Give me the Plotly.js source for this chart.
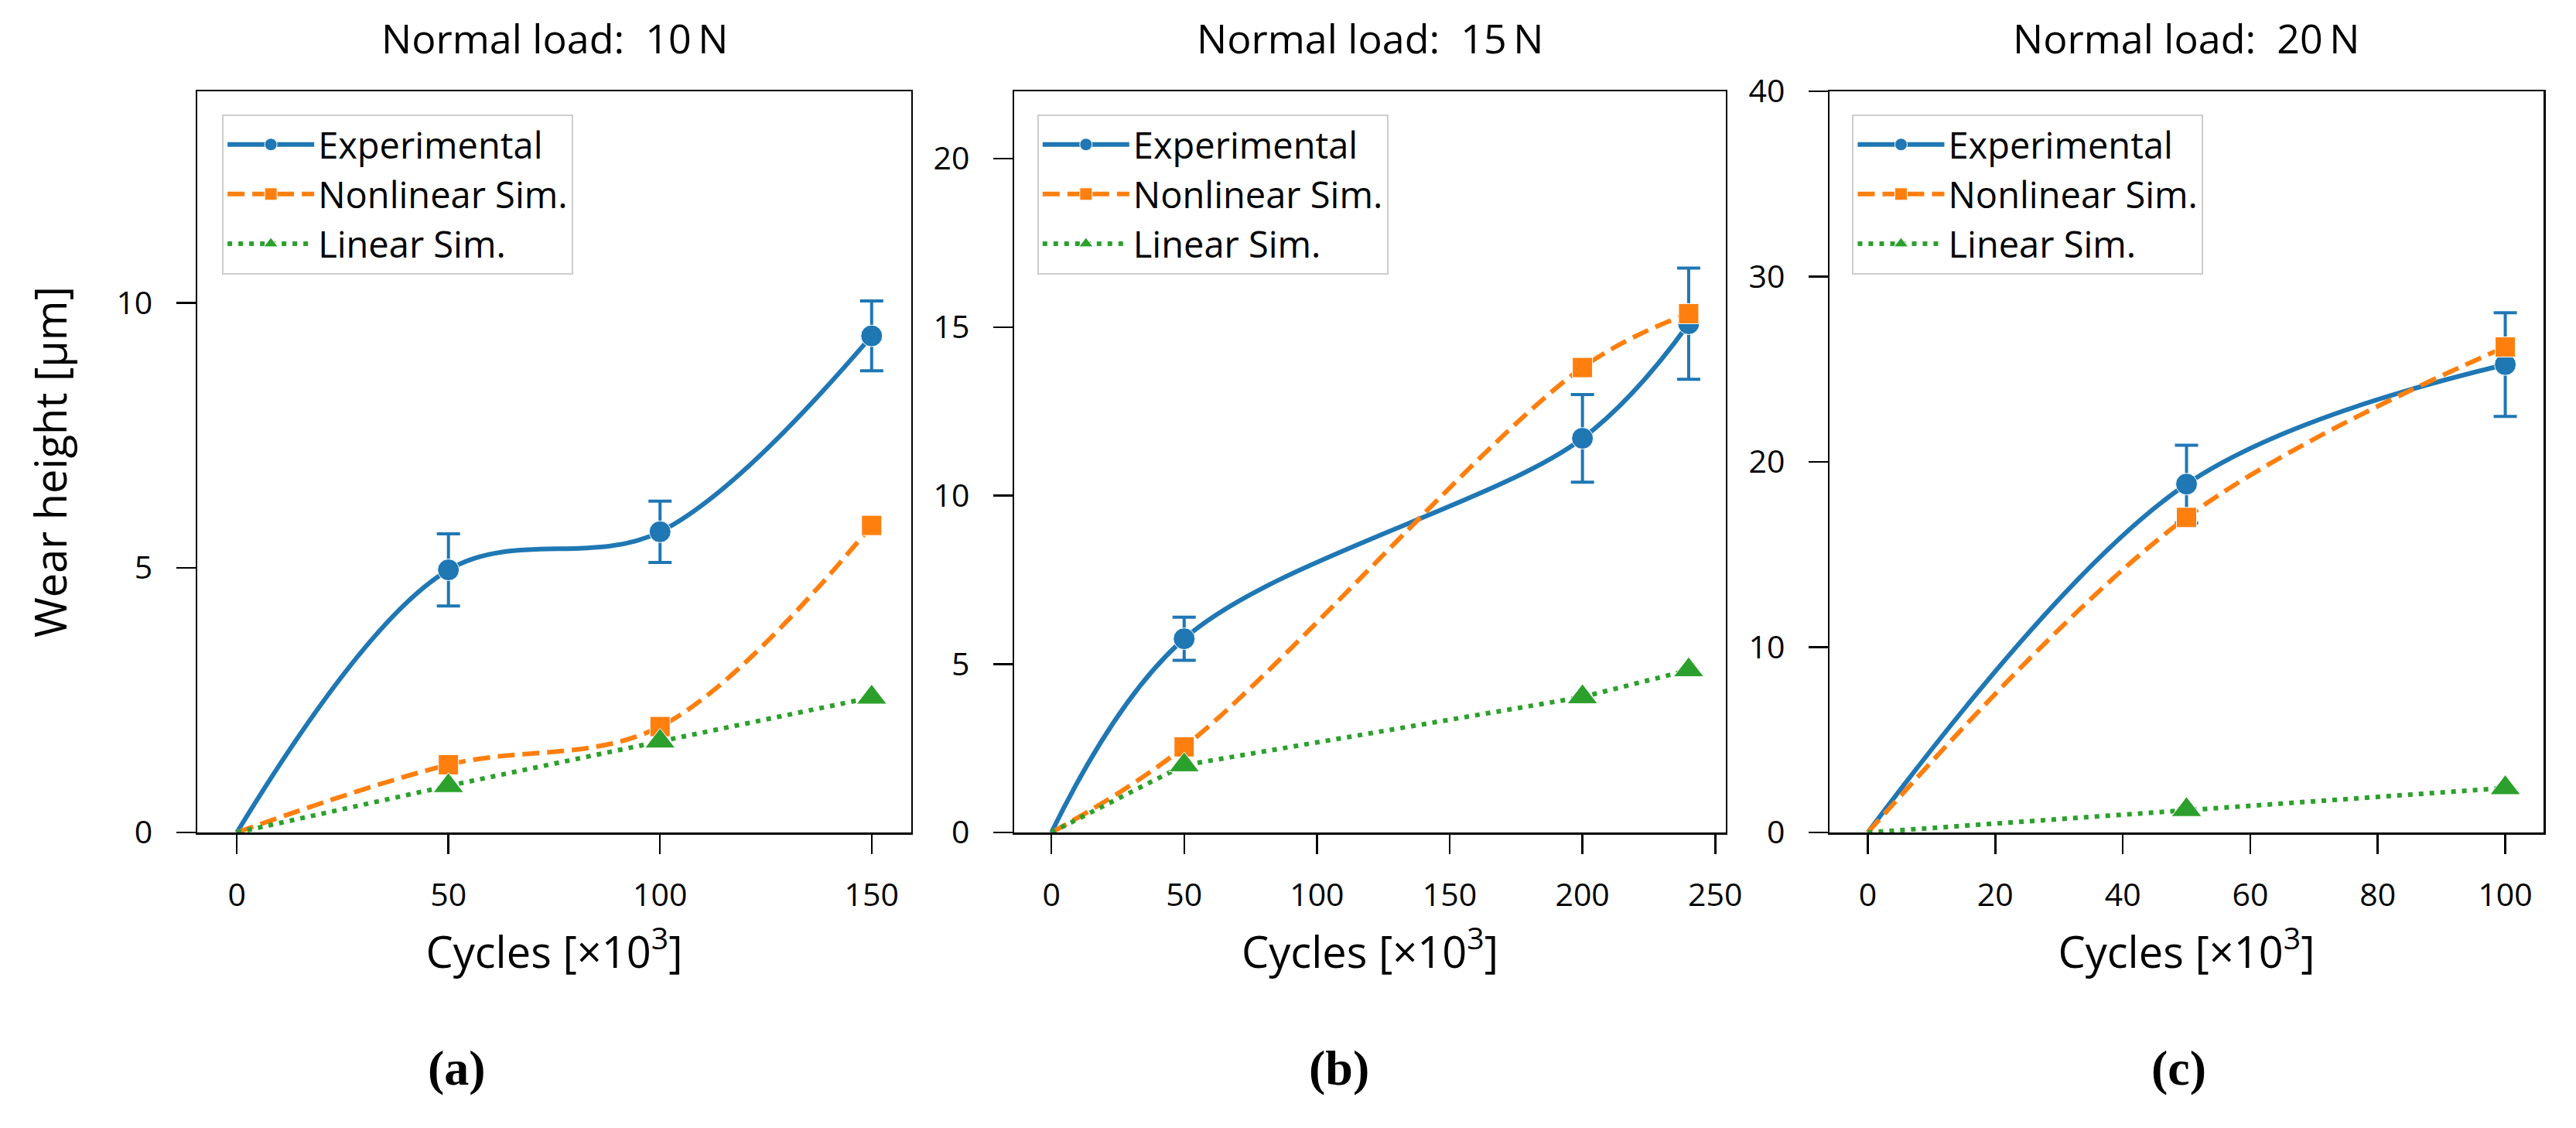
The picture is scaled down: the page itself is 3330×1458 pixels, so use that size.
<!DOCTYPE html>
<html>
<head>
<meta charset="utf-8">
<script src="https://cdn.plot.ly/plotly-3.0.1.min.js"></script>
<style>
  html, body { margin: 0; padding: 0; background: #fff; }
  #wear { width: 3330px; height: 1458px; }
</style>
</head>
<body>
<div id="wear"></div>
<script>
// ---- data (cycles in 10^3, wear height in um) ----
// NaN = no error bar at that point

// (a) normal load 10 N
var cyc_10 = [0, 50, 100, 150];
var exp_10 = [0, 4.96, 5.68, 9.38];
var err_10 = [NaN, 0.68, 0.58, 0.66];
var nonlin_10 = [0, 1.28, 2.0, 5.8];
var lin_10 = [0, 0.88, 1.72, 2.55];

// (b) normal load 15 N
var cyc_15 = [0, 50, 200, 240];
var exp_15 = [0, 5.75, 11.7, 15.1];
var err_15 = [NaN, 0.64, 1.3, 1.65];
var nonlin_15 = [0, 2.54, 13.8, 15.4];
var lin_15 = [0, 2.0, 4.02, 4.82];

// (c) normal load 20 N
var cyc_20 = [0, 50, 100];
var exp_20 = [0, 18.8, 25.25];
var err_20 = [NaN, 2.1, 2.8];
var nonlin_20 = [0, 17.0, 26.2];
var lin_20 = [0, 1.22, 2.4];

var panel_titles = ['Normal load:  10\u2009N', 'Normal load:  15\u2009N', 'Normal load:  20\u2009N'];
var panel_tags = ['(a)', '(b)', '(c)'];
var series_names = ['Experimental', 'Nonlinear Sim.', 'Linear Sim.'];

var blue = '#1f77b4', orange = '#ff7f0e', green = '#2ca02c';
var font_main = 'Open Sans, Lato, sans-serif';

// no marker at the origin, only at the measured points
function sizes(x, s) {
  return x.map(function (v) { return v === 0 ? 0 : s; });
}

function panelTraces(n, x, e, err, nl, li) {
  var xa = n == 1 ? 'x' : 'x' + n;
  var ya = n == 1 ? 'y' : 'y' + n;
  var lg = n == 1 ? 'legend' : 'legend' + n;
  return [
    {
      x: x, y: e, name: series_names[0], xaxis: xa, yaxis: ya, legend: lg,
      type: 'scatter', mode: 'lines+markers',
      line: {color: blue, width: 6, shape: 'spline', smoothing: 1},
      marker: {symbol: 'circle', size: sizes(x, 28), color: blue, opacity: 1},
      error_y: {type: 'data', array: err, visible: true, color: blue, thickness: 4, width: 15}
    },
    {
      x: x, y: nl, name: series_names[1], xaxis: xa, yaxis: ya, legend: lg,
      type: 'scatter', mode: 'lines+markers',
      line: {color: orange, width: 6, shape: 'spline', smoothing: 1, dash: '22px,10px'},
      marker: {symbol: 'square', size: sizes(x, 26), color: orange, opacity: 1}
    },
    {
      x: x, y: li, name: series_names[2], xaxis: xa, yaxis: ya, legend: lg,
      type: 'scatter', mode: 'lines+markers',
      line: {color: green, width: 6, dash: '6px,8px'},
      marker: {symbol: 'triangle-up', size: sizes(x, 34), color: green, opacity: 1}
    }
  ];
}

var data = []
  .concat(panelTraces(1, cyc_10, exp_10, err_10, nonlin_10, lin_10))
  .concat(panelTraces(2, cyc_15, exp_15, err_15, nonlin_15, lin_15))
  .concat(panelTraces(3, cyc_20, exp_20, err_20, nonlin_20, lin_20));

function xAxis(dom, rng, dtick, anchor) {
  return {
    domain: dom, range: rng, dtick: dtick, anchor: anchor,
    showline: true, linecolor: '#000', linewidth: 2.5, mirror: true,
    ticks: 'outside', ticklen: 25, tickwidth: 2.5, tickcolor: '#000',
    ticklabelstandoff: 18,
    showgrid: false, zeroline: false,
    tickfont: {family: font_main, size: 41, color: '#000'},
    title: {text: 'Cycles [\u00d710<sup>3</sup>]', standoff: 30,
            font: {family: font_main, size: 56, color: '#000'}}
  };
}

function yAxis(rng, dtick, anchor, title) {
  var ax = {
    domain: [0, 1], range: rng, dtick: dtick, anchor: anchor,
    showline: true, linecolor: '#000', linewidth: 2.5, mirror: true,
    ticks: 'outside', ticklen: 25, tickwidth: 2.5, tickcolor: '#000',
    ticklabelstandoff: 22,
    showgrid: false, zeroline: false,
    tickfont: {family: font_main, size: 41, color: '#000'}
  };
  if (title) {
    ax.title = {text: title, standoff: 46, font: {family: font_main, size: 56, color: '#000'}};
  }
  return ax;
}

function legendBox(x) {
  return {
    x: x, y: 0.969, xanchor: 'left', yanchor: 'top',
    bgcolor: 'rgba(255,255,255,0.8)', bordercolor: '#cccccc', borderwidth: 2,
    font: {family: font_main, size: 47, color: '#000'},
    itemwidth: 112, tracegroupgap: 0
  };
}

var title_x = [0.1522, 0.4998, 0.8478];
var tag_x = [0.1105, 0.4866, 0.8444];

var annotations = [];
for (var i = 0; i < 3; i++) {
  annotations.push({
    xref: 'paper', yref: 'paper', x: title_x[i], y: 1.073,
    xanchor: 'center', yanchor: 'middle', showarrow: false,
    text: panel_titles[i], font: {family: font_main, size: 52, color: '#000'}
  });
  annotations.push({
    xref: 'paper', yref: 'paper', x: tag_x[i], y: -0.318,
    xanchor: 'center', yanchor: 'middle', showarrow: false,
    text: '<b>' + panel_tags[i] + '</b>',
    font: {family: 'Liberation Serif, DejaVu Serif, serif', size: 64, color: '#000'}
  });
}

var layout = {
  width: 3330, height: 1458,
  margin: {l: 255, r: 42, t: 118, b: 382},
  paper_bgcolor: '#fff', plot_bgcolor: '#fff',
  showlegend: true,
  xaxis: xAxis([0, 0.3043], [-9.35, 159.35], 50, 'y'),
  xaxis2: xAxis([0.3482, 0.6515], [-14, 254], 50, 'y2'),
  xaxis3: xAxis([0.6957, 1], [-6, 106], 20, 'y3'),
  yaxis: yAxis([0, 14], 5, 'x', 'Wear height [\u03bcm]'),
  yaxis2: yAxis([0, 22], 5, 'x2'),
  yaxis3: yAxis([0, 40], 10, 'x3'),
  legend: legendBox(0.0106),
  legend2: legendBox(0.358),
  legend3: legendBox(0.7054),
  annotations: annotations
};

Plotly.newPlot('wear', data, layout, {staticPlot: true});
</script>
</body>
</html>
